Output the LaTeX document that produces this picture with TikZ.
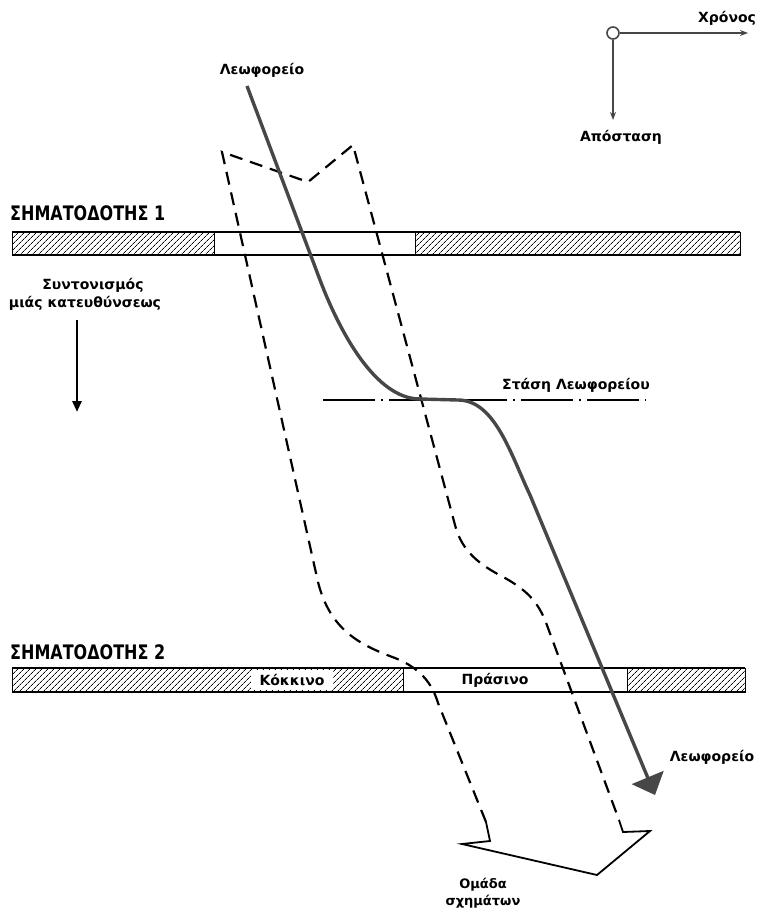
\documentclass[tikz,border=0pt]{standalone}
\usepackage{fontspec}
\setmainfont{DejaVu Sans}
\usetikzlibrary{arrows.meta,patterns.meta}
\begin{document}
\begin{tikzpicture}[x=1pt,y=-1pt,
  lbl/.style={font=\bfseries\fontsize{14}{16}\selectfont, inner sep=0pt, text=black},
  ttl/.style={font=\bfseries\fontsize{20}{22}\selectfont, inner sep=0pt, anchor=west},
  hatch/.style={draw=black, line width=0.9pt, pattern={Lines[angle=45,distance=4pt,line width=0.7pt]}},
  openpart/.style={draw=black, line width=0.9pt, fill=white},
  edge/.style={line width=1.8pt},
  grp/.style={line width=2.2pt, dash pattern=on 13pt off 8pt},
  grpsolid/.style={line width=1.8pt, line join=miter},
  bus/.style={line width=3.4pt, draw=black!72},
  axisline/.style={line width=1.8pt, draw=black!72, -{Stealth[length=8pt,width=6pt]}},
  stopline/.style={line width=1.6pt, dash pattern=on 52pt off 6pt on 2pt off 6pt}
]
\useasboundingbox (0,0) rectangle (762,913);

% ---------- axes ----------
\node[circle, draw=black!72, line width=1.6pt, minimum size=12pt, inner sep=0pt] (orig) at (613,33) {};
\coordinate (tEnd) at (748,33);
\coordinate (dEnd) at (613,120);
\draw[axisline] (orig.east) -- (tEnd);
\draw[axisline] (orig.south) -- (dEnd);
\node[lbl] (time) at (727,18) {Χρόνος};
\node[lbl] (dist) at (621,137) {Απόσταση};

% ---------- signal 1 ----------
\node[ttl] (s1) at (10,213) {\scalebox{0.8}[1]{ΣΗΜΑΤΟΔΟΤΗΣ 1}};
\path[hatch] (12,232) rectangle (214,255);
\path[openpart] (214,232) rectangle (415,255);
\path[hatch] (415,232) rectangle (740,255);
\draw[edge] (12,232) -- (740,232) (12,255) -- (740,255);

% ---------- signal 2 ----------
\node[ttl] (s2) at (10,652) {\scalebox{0.8}[1]{ΣΗΜΑΤΟΔΟΤΗΣ 2}};
\path[hatch] (12,668) rectangle (403,692);
\path[openpart] (403,668) rectangle (627,692);
\path[hatch] (627,668) rectangle (745,692);
\draw[edge] (12,668) -- (745,668) (12,692) -- (745,692);
\node[lbl, fill=white, inner xsep=9pt, inner ysep=4pt] (red) at (292,680) {Κόκκινο};
\node[lbl] (green) at (495,680) {Πράσινο};

% ---------- coordination arrow ----------
\node[lbl] (coord1) at (93,285) {Συντονισμός};
\node[lbl] (coord2) at (85,303) {μιάς κατευθύνσεως};
\coordinate (cTop) at (77,320);
\coordinate (cBot) at (77,412);
\draw[line width=2.8pt, -{Triangle[length=11pt,width=9pt]}] (cTop) -- (cBot);

% ---------- bus stop ----------
\coordinate (stA) at (323,400);
\coordinate (stB) at (646,400);
\draw[stopline] (stA) -- (stB);
\node[lbl] (stop) at (576,385) {Στάση Λεωφορείου};

% ---------- platoon of vehicles ----------
\coordinate (gBL) at (486,822);
\coordinate (gTL) at (222,152);
\coordinate (gTN) at (308,182);
\coordinate (gTR) at (353,145);
\coordinate (gBR) at (619,820);
\draw[grp] (gBL) -- (438,703) .. controls (432,683) and (420,668) .. (395,658)
  .. controls (360,645) and (330,630) .. (318,582) -- (gTL) -- (gTN) -- (gTR)
  -- (455,525) .. controls (462,552) and (480,565) .. (505,578)
  .. controls (530,592) and (540,605) .. (548,628) -- (gBR);
\draw[grpsolid] (gBL) -- (490,841) -- (462,844) -- (597,875) -- (650,831) -- (623,832) -- (gBR);
\node[lbl, font=\bfseries\fontsize{13}{15}\selectfont] (grp1) at (483,885) {Ομάδα};
\node[lbl, font=\bfseries\fontsize{13}{15}\selectfont] (grp2) at (483,902) {σχημάτων};

% ---------- bus ----------
\node[lbl] (busTop) at (262,70) {Λεωφορείο};
\node[lbl] (busBot) at (712,757) {Λεωφορείο};
\coordinate (bS) at (247,86);
\coordinate (bE) at (655,795);
\draw[bus, -{Triangle[length=19pt,width=34pt]}] (bS) -- (320,280)
  .. controls (339,330) and (375,399) .. (420,399) -- (458,400)
  .. controls (495,400) and (511,455) .. (530,495) -- (bE);
\end{tikzpicture}
\end{document}
